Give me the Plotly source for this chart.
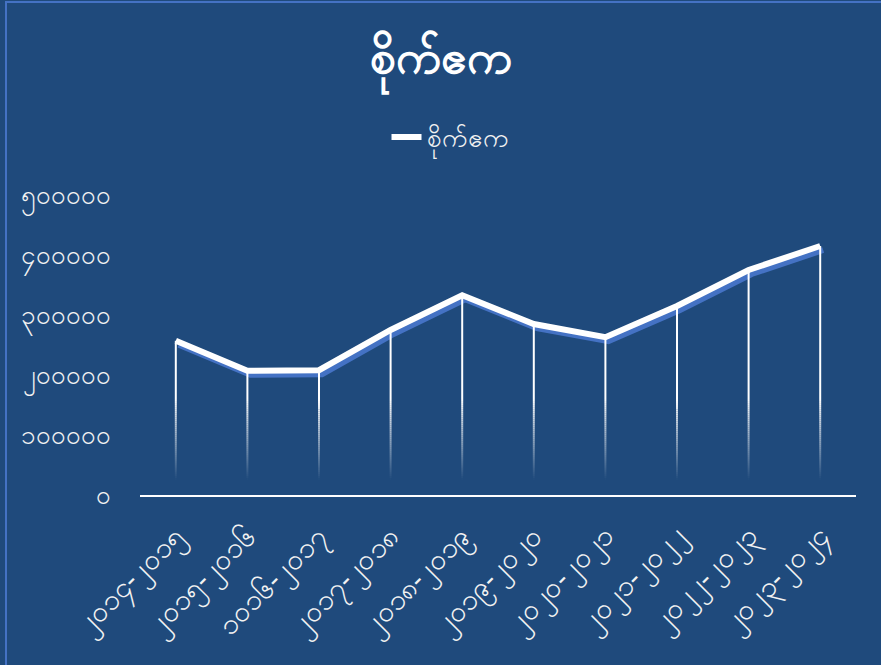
import plotly.graph_objects as go

# ---- data ----
categories = ["၂၀၁၄-၂၀၁၅", "၂၀၁၅-၂၀၁၆", "၁၀၁၆-၂၀၁၇", "၂၀၁၇-၂၀၁၈", "၂၀၁၈-၂၀၁၉",
              "၂၀၁၉-၂၀၂၀", "၂၀၂၀-၂၀၂၁", "၂၀၂၁-၂၀၂၂", "၂၀၂၂-၂၀၂၃", "၂၀၂၃-၂၀၂၄"]
acres = [257000, 207000, 208000, 275000, 333000, 285000, 263000, 315000, 375000, 415000]
y_tick_vals = [0, 100000, 200000, 300000, 400000, 500000]
y_tick_text = ["၀", "၁၀၀၀၀၀", "၂၀၀၀၀၀", "၃၀၀၀၀၀", "၄၀၀၀၀၀", "၅၀၀၀၀၀"]
series_name = "စိုက်ဧက"
title_text = "စိုက်ဧက"

BG = "#1F4A7C"
SHADOW = "#4472C4"
FONT = "Noto Sans, DejaVu Sans, sans-serif"

W, H = 881, 665
pl, pr = 140, 859   # plot area px (x)
pt, pb = 195, 499   # plot area px (y)
dx, dy = 3, 4       # shadow offset px
pw, ph = pr - pl, pb - pt

fig = go.Figure()

# shadow line (subplot x/y, offset by a few pixels)
fig.add_trace(go.Scatter(
    x=categories, y=acres, mode="lines", xaxis="x", yaxis="y",
    line=dict(color=SHADOW, width=6), showlegend=False, hoverinfo="skip"))
# main line (subplot x2/y2, drawn on top)
fig.add_trace(go.Scatter(
    x=categories, y=acres, mode="lines", name=series_name, xaxis="x2", yaxis="y2",
    line=dict(color="white", width=6)))

# drop lines with fading gradient toward bottom
shapes = []
N = 40
fade_lo, fade_hi = 25000, 160000
for c, v in zip(categories, acres):
    top_fade = min(v, fade_hi)
    for k in range(N):
        a = fade_lo + (top_fade - fade_lo) * k / N
        b = fade_lo + (top_fade - fade_lo) * (k + 1) / N
        op = (a + b) / 2
        op = max(0.0, min(1.0, (op - fade_lo) / (fade_hi - fade_lo)))
        shapes.append(dict(type="line", xref="x2", yref="y2", x0=c, x1=c, y0=a, y1=b,
                           line=dict(color="rgba(255,255,255,%.3f)" % op, width=2),
                           layer="below"))
    if v > fade_hi:
        shapes.append(dict(type="line", xref="x2", yref="y2", x0=c, x1=c, y0=fade_hi, y1=v,
                           line=dict(color="white", width=2), layer="below"))

# chart border
shapes.append(dict(type="rect", xref="paper", yref="paper",
                   x0=(6 - pl) / pw, x1=(W + 20 - pl) / pw,
                   y0=-(H + 20 - pb) / ph, y1=(pb - 2) / ph,
                   line=dict(color=SHADOW, width=2), layer="below"))

fig.update_layout(
    width=W, height=H,
    margin=dict(l=pl, r=W - pr, t=pt, b=H - pb),
    paper_bgcolor=BG, plot_bgcolor="rgba(0,0,0,0)",
    font=dict(family=FONT, color="#F2F2F2"),
    title=dict(text="<b>" + title_text + "</b>", x=0.5, xanchor="center",
               y=1 - 57 / H, yanchor="middle", font=dict(size=46, color="white")),
    legend=dict(orientation="h", x=(450 - pl) / pw, xanchor="center", y=(pb - 137) / ph,
                yanchor="middle", font=dict(size=26, color="#F2F2F2"),
                bgcolor="rgba(0,0,0,0)"),
    showlegend=True,
    xaxis=dict(domain=[dx / pw, 1], type="category", range=[-0.5, 9.5], visible=False,
               anchor="y"),
    yaxis=dict(domain=[0, (ph - dy) / ph], range=[0, 500000], visible=False, anchor="x"),
    xaxis2=dict(domain=[0, (pw - dx) / pw], type="category", range=[-0.5, 9.5],
                showgrid=False, zeroline=False, showline=True, linecolor="white",
                linewidth=2, ticks="", tickangle=-45, tickfont=dict(size=29, color="#F2F2F2"),
                anchor="y2", ticklabelstandoff=10),
    yaxis2=dict(domain=[dy / ph, 1], range=[0, 500000], showgrid=False, zeroline=False,
                showline=False, tickvals=y_tick_vals, ticktext=y_tick_text,
                tickfont=dict(size=26, color="#F2F2F2"), ticks="", ticklabelstandoff=28,
                anchor="x2"),
    shapes=shapes,
    hovermode=False,
)

fig.write_html("out.html")
